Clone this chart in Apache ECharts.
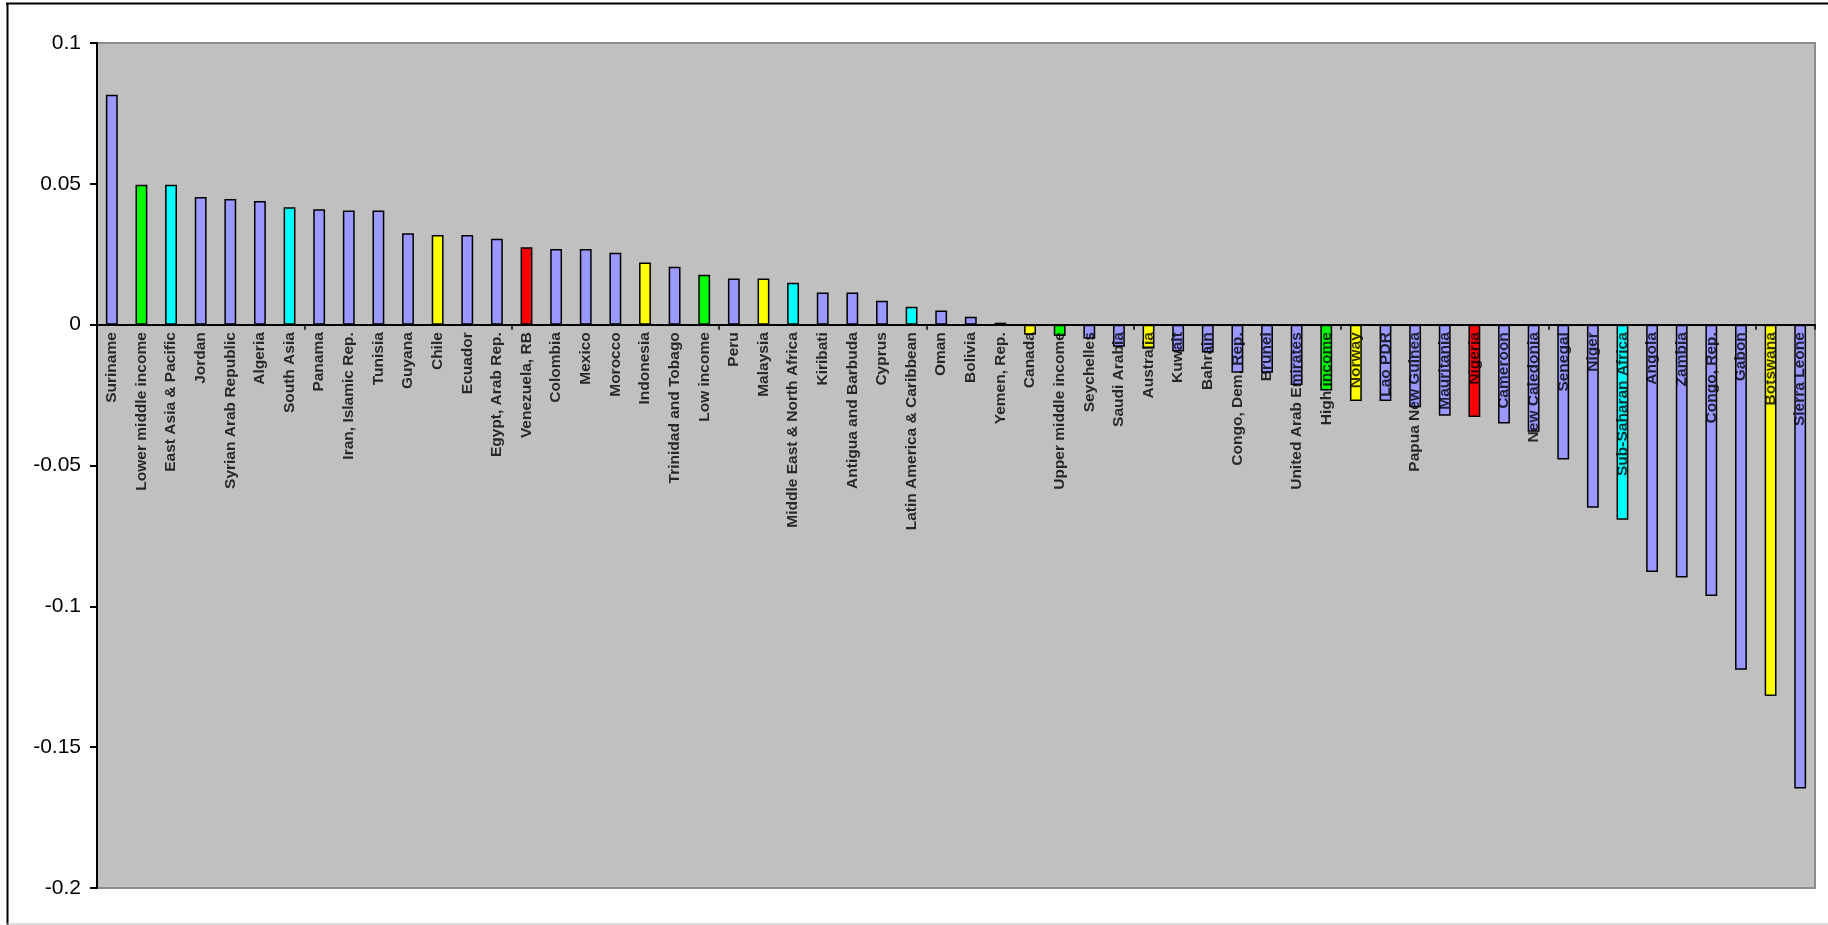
<!DOCTYPE html>
<html>
<head>
<meta charset="utf-8">
<script src="https://cdn.jsdelivr.net/npm/echarts@6/dist/echarts.min.js"></script>
<style>
html,body{margin:0;padding:0;background:#fff;}
#chart{width:1828px;height:925px;}
</style>
</head>
<body>
<div id="chart"></div>
<script>
const categories = [
  "Suriname","Lower middle income","East Asia & Pacific","Jordan","Syrian Arab Republic","Algeria",
  "South Asia","Panama","Iran, Islamic Rep.","Tunisia","Guyana","Chile","Ecuador","Egypt, Arab Rep.",
  "Venezuela, RB","Colombia","Mexico","Morocco","Indonesia","Trinidad and Tobago","Low income","Peru",
  "Malaysia","Middle East & North Africa","Kiribati","Antigua and Barbuda","Cyprus",
  "Latin America & Caribbean","Oman","Bolivia","Yemen, Rep.","Canada","Upper middle income",
  "Seychelles","Saudi Arabia","Australia","Kuwait","Bahrain","Congo, Dem. Rep.","Brunei",
  "United Arab Emirates","High income","Norway","Lao PDR","Papua New Guinea","Mauritania","Nigeria",
  "Cameroon","New Caledonia","Senegal","Niger","Sub-Saharan Africa","Angola","Zambia","Congo, Rep.",
  "Gabon","Botswana","Sierra Leone"
];
const values = [
  0.0816, 0.0497, 0.0497, 0.0453, 0.0446, 0.0439,
  0.0417, 0.0410, 0.0405, 0.0405, 0.0325, 0.0318, 0.0318, 0.0305,
  0.0275, 0.0269, 0.0269, 0.0255, 0.0221, 0.0206, 0.0177, 0.0164,
  0.0164, 0.0149, 0.0114, 0.0114, 0.0085,
  0.0064, 0.0050, 0.0028, 0.0007, -0.0036, -0.0040,
  -0.0050, -0.0078, -0.0085, -0.0095, -0.0099, -0.0171, -0.0171,
  -0.0214, -0.0234, -0.0271, -0.0271, -0.0293, -0.0323, -0.0328,
  -0.0351, -0.0380, -0.0479, -0.0650, -0.0693, -0.0878, -0.0898, -0.0963,
  -0.1225, -0.1318, -0.1647
];
const groups = [
  "country","income","region","country","country","country",
  "region","country","country","country","country","comparator","country","country",
  "focus","country","country","country","comparator","country","income","country",
  "comparator","region","country","country","country",
  "region","country","country","country","comparator","income",
  "country","country","comparator","country","country","country","country",
  "country","income","comparator","country","country","country","focus",
  "country","country","country","country","region","country","country","country",
  "country","comparator","country"
];
const yTicks = { min: -0.2, max: 0.1, interval: 0.05 };

const groupColors = {
  country: "#9999FF",
  income: "#00FF00",
  region: "#00FFFF",
  comparator: "#FFFF00",
  focus: "#FF0000"
};

const font = "'Liberation Sans', Arial, sans-serif";
const chart = echarts.init(document.getElementById('chart'), null, {renderer: 'canvas'});
chart.setOption({
  animation: false,
  backgroundColor: '#ffffff',
  grid: {
    left: 97, right: 13, top: 43, bottom: 37,
    show: true, backgroundColor: '#C0C0C0', borderColor: '#8C8C8C', borderWidth: 2
  },
  graphic: [
    { type: 'line', shape: {x1: 6, y1: 3.5, x2: 1828, y2: 3.5}, style: {stroke: '#000', lineWidth: 2}, silent: true },
    { type: 'line', shape: {x1: 7.5, y1: 3, x2: 7.5, y2: 925}, style: {stroke: '#000', lineWidth: 2}, silent: true },
    { type: 'line', shape: {x1: 6, y1: 924, x2: 1828, y2: 924}, style: {stroke: '#BBBBBB', lineWidth: 1}, silent: true }
  ],
  xAxis: {
    type: 'category',
    data: categories,
    z: 10,
    axisLine: { onZero: true, lineStyle: { color: '#000', width: 2 } },
    axisTick: { show: true, length: 5, lineStyle: { color: '#000', width: 1.5 } },
    axisLabel: { show: false },
    splitLine: { show: false }
  },
  yAxis: {
    type: 'value',
    min: yTicks.min, max: yTicks.max, interval: yTicks.interval,
    axisLine: { show: true, lineStyle: { color: '#000', width: 2 } },
    axisTick: { show: true, length: 7, lineStyle: { color: '#000', width: 2 } },
    axisLabel: { fontSize: 21, color: '#000', margin: 16, fontFamily: font },
    splitLine: { show: false }
  },
  series: [{
    type: 'bar',
    barWidth: '40%',
    z: 2,
    data: values.map((v, i) => ({
      value: v,
      itemStyle: { color: groupColors[groups[i]], borderColor: '#000', borderWidth: 1.5 }
    }))
  }, {
    type: 'scatter',
    z: 20,
    symbol: 'circle',
    symbolSize: 1,
    itemStyle: { color: 'rgba(0,0,0,0)' },
    silent: true,
    data: categories.map(c => [c, 0]),
    label: {
      show: true,
      formatter: p => p.name,
      position: [0.5, 8],
      rotate: 90,
      align: 'right',
      verticalAlign: 'middle',
      fontSize: 15.5, fontWeight: 'bold', color: '#000', fontFamily: font
    }
  }]
});
</script>
</body>
</html>
